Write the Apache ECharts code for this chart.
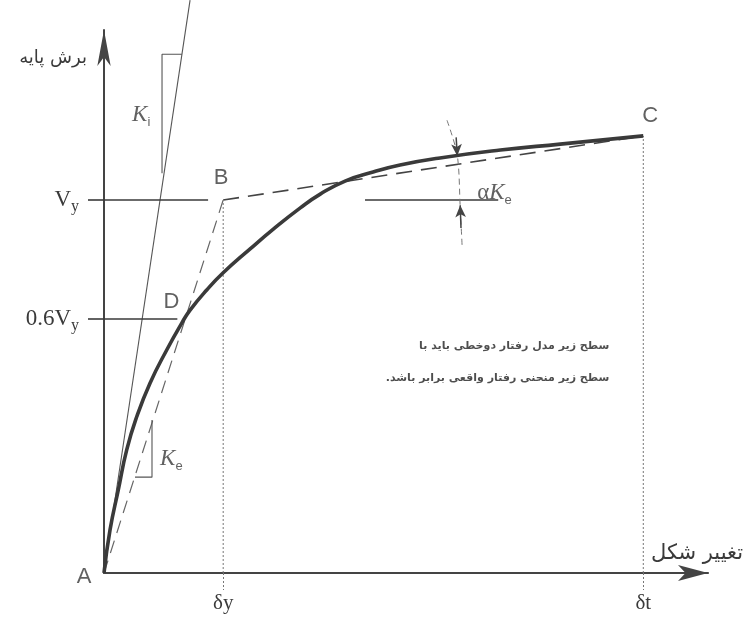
<!DOCTYPE html>
<html><head><meta charset="utf-8">
<script src="https://cdn.jsdelivr.net/npm/echarts@6/dist/echarts.min.js"></script>
<style>html,body{margin:0;padding:0;background:#fff}#c{width:753px;height:617px}</style>
</head><body><div id="c"></div>
<script>
// ---- data (x: displacement units, δt = 100 ; y: base shear units, Vy = 100) ----
const curveX = [0, 1.11, 2.65, 4.21, 6.07, 8.53, 11.63, 14.42, 15.96, 19.05, 22.1, 27.1, 31.4, 36.4, 40.1, 44.7, 49.9, 54.9, 62.3, 73.5, 84.6, 100];
const curveY = [0, 11.5, 22.3, 33.0, 41.9, 50.9, 59.8, 67.0, 70.5, 75.9, 80.5, 86.9, 92.2, 97.9, 101.6, 105.1, 107.5, 109.4, 111.3, 113.4, 115, 117.2];
const pointNames = ['A', 'B', 'C', 'D'];
const pointX = [0, 22.1, 100, 14.9];
const pointY = [0, 100, 117.2, 68.1];
const xTickValues = [22.1, 100];
const xTickLabels = ['δy', 'δt'];
const yTickValues = [68.1, 100];
const yTickLabels = ['{n|0.6V}{s|y}', '{n|V}{s|y}'];
const xMax = 112;
const yMax = 145.6;
const kiLineX = [0, 15.96];
const kiLineY = [0, 153.6];
const kiTriX = [10.76, 10.76, 14.45];
const kiTriY = [107.2, 139.1, 139.1];
const keTriX = [8.9, 8.9, 5.75];
const keTriY = [41, 25.7, 25.7];
const vyLineX = [0, 19.3];
const vy06LineX = [0, 13.6];
const alphaLineX = [48.4, 73.1];
const alphaArcX = [63.6, 65.5, 66.05, 66.4];
const alphaArcY = [121.4, 112.1, 98.1, 87.9];
const yAxisName = 'برش پایه';
const xAxisName = 'تغییر شکل';
const noteLines = ['سطح زیر مدل رفتار دوخطی باید با', 'سطح زیر منحنی رفتار واقعی برابر باشد.\u200F'];
const noteX = [93.7, 93.7];
const noteY = [60.9, 52.3];

const zip = (xs, ys) => xs.map((x, i) => [x, ys[i]]);
const ink = '#3a3a3a';
const thin = '#555';
const serif = '"Liberation Serif","DejaVu Serif",serif';
const sans = '"Liberation Sans","DejaVu Sans",sans-serif';
const fa = '"DejaVu Sans",sans-serif';

function lineSeries(data, style, extra) {
  return Object.assign({
    type: 'line', data: data, symbol: 'none', showSymbol: false, silent: true,
    clip: false, lineStyle: style, z: 3
  }, extra || {});
}
const kRich = {
  k: { fontFamily: serif, fontStyle: 'italic', fontSize: 23, color: ink, lineHeight: 23, verticalAlign: 'top' },
  a: { fontFamily: serif, fontSize: 23, color: ink, lineHeight: 23, verticalAlign: 'top' },
  s: { fontFamily: sans, fontSize: 13, color: ink, lineHeight: 13, padding: [12, 0, 0, 0], verticalAlign: 'top' }
};

const chart = echarts.init(document.getElementById('c'), null, { renderer: 'canvas' });
chart.setOption({
  animation: false,
  backgroundColor: '#ffffff',
  grid: { left: 104, right: 45, top: 30, bottom: 44, containLabel: false },
  xAxis: {
    type: 'value', min: 0, max: xMax,
    name: xAxisName, nameLocation: 'end', nameGap: -11,
    nameTextStyle: { fontFamily: fa, fontSize: 21, color: ink, align: 'center', verticalAlign: 'bottom', padding: [0, 0, 9, 0] },
    axisLine: { show: true, lineStyle: { color: '#444', width: 2.2 }, symbol: ['none', 'arrow'], symbolSize: [12, 30], symbolOffset: [0, 0] },
    axisTick: { show: true, customValues: xTickValues, length: 17, inside: false, lineStyle: { color: '#777', width: 1, type: [2, 2] } },
    axisLabel: {
      show: true, customValues: xTickValues, margin: 20,
      formatter: v => xTickLabels[xTickValues.indexOf(v)],
      fontFamily: serif, fontSize: 21, color: ink
    },
    splitLine: { show: false }
  },
  yAxis: {
    type: 'value', min: 0, max: yMax,
    name: yAxisName, nameLocation: 'end', nameGap: -28,
    nameTextStyle: { fontFamily: fa, fontSize: 18, color: ink, align: 'right', verticalAlign: 'middle', padding: [0, 17, 0, 0] },
    axisLine: { show: true, lineStyle: { color: '#444', width: 2 }, symbol: ['none', 'arrow'], symbolSize: [10, 36] },
    axisTick: { show: true, customValues: yTickValues, length: 16, inside: false, lineStyle: { color: ink, width: 1.6 } },
    axisLabel: {
      show: true, customValues: yTickValues, margin: 25,
      formatter: v => yTickLabels[yTickValues.indexOf(v)],
      rich: {
        n: { fontFamily: serif, fontSize: 23, color: ink, lineHeight: 23, verticalAlign: 'top' },
        s: { fontFamily: serif, fontSize: 16, color: ink, lineHeight: 16, padding: [10, 0, 0, 0], verticalAlign: 'top' }
      }
    },
    splitLine: { show: false }
  },
  series: [
    lineSeries(zip(curveX, curveY), { color: ink, width: 3.6 }, { smooth: 0.5, z: 5 }),
    lineSeries([[pointX[0], pointY[0]], [pointX[1], pointY[1]]], { color: '#666', width: 1.2, type: [13, 8] }),
    lineSeries([[pointX[1], pointY[1]], [pointX[2], pointY[2]]], { color: '#444', width: 1.6, type: [16, 9] }),
    lineSeries(zip(kiLineX, kiLineY), { color: thin, width: 1.1 }),
    lineSeries(zip(kiTriX, kiTriY), { color: thin, width: 1.1 }),
    lineSeries(zip(keTriX, keTriY), { color: thin, width: 1.1 }),
    lineSeries(zip(vyLineX, [pointY[1], pointY[1]]), { color: ink, width: 1.6 }),
    lineSeries(zip(vy06LineX, [pointY[3], pointY[3]]), { color: ink, width: 1.6 }),
    lineSeries(zip(alphaLineX, [pointY[1], pointY[1]]), { color: ink, width: 1.6 }),
    lineSeries(zip(alphaArcX, alphaArcY), { color: '#777', width: 1, type: [6, 4] }, { smooth: 0.3 }),
    lineSeries([[xTickValues[0], 0], [xTickValues[0], pointY[1]]], { color: '#777', width: 1, type: [2, 2] }),
    lineSeries([[xTickValues[1], 0], [xTickValues[1], pointY[2]]], { color: '#777', width: 1, type: [2, 2] }),
    {
      type: 'line', data: [], silent: true,
      markLine: {
        silent: true, symbol: ['none', 'arrow'], symbolSize: [8, 12], label: { show: false },
        lineStyle: { color: '#444', width: 1.5, type: 'solid' },
        data: [
          [{ coord: [65.3, 116.8] }, { coord: [65.5, 111.8] }],
          [{ coord: [66.2, 92.5] }, { coord: [66.05, 98.6] }]
        ]
      }
    },
    {
      type: 'scatter', silent: true, clip: false, symbolSize: 0, z: 6,
      data: [
        { value: [pointX[0], pointY[0]], label: { offset: [-20, 4] } },
        { value: [pointX[1], pointY[1]], label: { offset: [-2, -22] } },
        { value: [pointX[2], pointY[2]], label: { offset: [7, -20] } },
        { value: [pointX[3], pointY[3]], label: { offset: [-13, -17] } }
      ].map((d, i) => Object.assign(d, { name: pointNames[i] })),
      label: { show: true, position: 'inside', formatter: p => p.name, fontFamily: sans, fontSize: 22, color: ink }
    },
    {
      type: 'scatter', silent: true, clip: false, symbolSize: 0, z: 6,
      data: [
        { value: [5.2, 122.8], label: { formatter: '{k|K}{s|i}' } },
        { value: [10.4, 30.5], label: { formatter: '{k|K}{s|e}' } },
        { value: [69.2, 101.8], label: { formatter: '{a|α}{k|K}{s|e}' } }
      ],
      label: { show: true, position: 'right', distance: 0, rich: kRich }
    },
    {
      type: 'scatter', silent: true, clip: false, symbolSize: 0, z: 6,
      data: noteLines.map((t, i) => ({ value: [noteX[i], noteY[i]], name: t })),
      label: { show: true, position: 'left', distance: 0, formatter: p => p.name, fontFamily: fa, fontSize: 11, fontWeight: 'bold', color: '#222' }
    }
  ]
});
</script></body></html>
